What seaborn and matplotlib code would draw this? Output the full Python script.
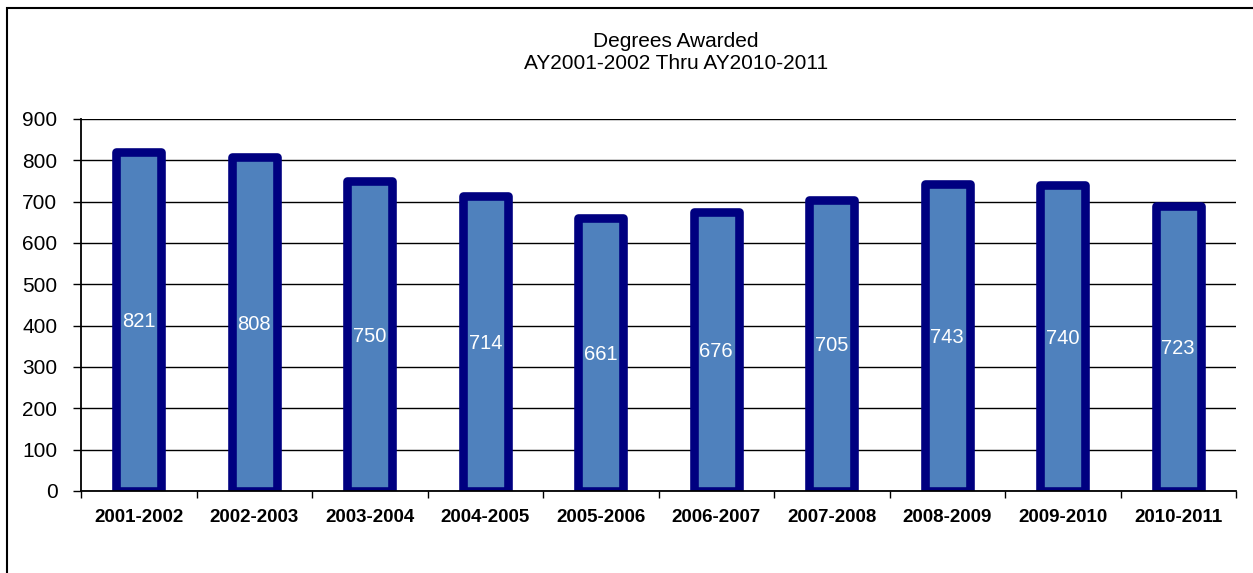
import numpy as np
import pandas as pd
import seaborn as sns
import matplotlib.pyplot as plt
from matplotlib.patches import Rectangle
from matplotlib.ticker import FixedLocator

years = ["2001-2002", "2002-2003", "2003-2004", "2004-2005", "2005-2006",
         "2006-2007", "2007-2008", "2008-2009", "2009-2010", "2010-2011"]
# bar heights as drawn in the picture
degrees = [821, 808, 750, 714, 661, 676, 705, 743, 740, 690]
# numbers printed inside the bars
bar_labels = ["821", "808", "750", "714", "661", "676", "705", "743", "740", "723"]
y_ticks = [0, 100, 200, 300, 400, 500, 600, 700, 800, 900]

sns.set_theme(style="white")
plt.rcParams["font.family"] = ["Liberation Sans", "DejaVu Sans"]
plt.rcParams["text.color"] = "black"

df = pd.DataFrame({"year": years, "degrees": degrees})

fig = plt.figure(figsize=(12.53, 5.73), dpi=100)
ax = fig.add_axes([81 / 1253, 1 - 491 / 573, (1236 - 81) / 1253, (491 - 119) / 573])

sns.barplot(data=df, x="year", y="degrees", color="#4F81BD", saturation=1,
            edgecolor="#000080", linewidth=6.2, width=0.39, ax=ax)
for p in ax.patches:
    p.set_joinstyle("round")

for i, lab in enumerate(bar_labels):
    ax.text(i, degrees[i] / 2, lab, ha="center", va="center", color="white",
            fontsize=14.5)

ax.set_ylim(0, 900)
ax.set_xlim(-0.5, len(years) - 0.5)
ax.set_yticks(y_ticks)
ax.yaxis.grid(True, color="black", linewidth=1.0)
ax.set_axisbelow(True)
ax.set_xlabel("")
ax.set_ylabel("")

for s in ["top", "right"]:
    ax.spines[s].set_visible(False)
for s in ["left", "bottom"]:
    ax.spines[s].set_color("black")
    ax.spines[s].set_linewidth(1.3)

ax.tick_params(axis="y", left=True, length=6, width=1.0, color="black",
               pad=11, labelsize=15, labelcolor="black")
ax.tick_params(axis="x", which="major", bottom=False, length=0, pad=13,
               labelsize=13.5, labelcolor="black")
ax.xaxis.set_minor_locator(FixedLocator(np.arange(-0.5, len(years), 1.0)))
ax.tick_params(axis="x", which="minor", bottom=True, length=5, width=1.0,
               color="black", direction="out")
for t in ax.get_xticklabels():
    t.set_fontweight("bold")

fig.text(676 / 1253, 1 - 47 / 573, "Degrees Awarded", ha="center",
         va="baseline", fontsize=15, color="black")
fig.text(676 / 1253, 1 - 69 / 573, "AY2001-2002 Thru AY2010-2011", ha="center",
         va="baseline", fontsize=15, color="black")

# outer chart frame, partly cut off at the right and bottom
fig.patches.append(Rectangle((7 / 1253, -0.1), 1.2, 1 - 8.5 / 573 + 0.1,
                             transform=fig.transFigure, fill=False,
                             edgecolor="black", linewidth=1.5))

fig.savefig("out.png", dpi=100)
